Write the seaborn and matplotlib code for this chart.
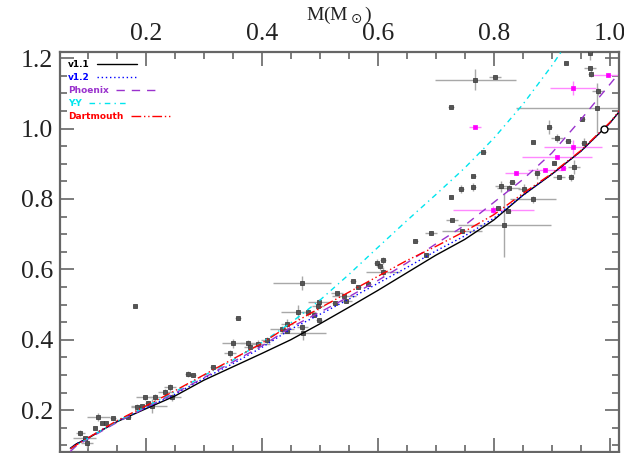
import numpy as np
import pandas as pd
import matplotlib
matplotlib.use('Agg')
import matplotlib.pyplot as plt
from matplotlib.ticker import MultipleLocator
import seaborn as sns

# ----------------------------------------------------------------------------------
# model tracks: radius vs mass
# ----------------------------------------------------------------------------------
mass_grid = [0.07, 0.08, 0.10, 0.15, 0.20, 0.25, 0.30, 0.35, 0.40, 0.45, 0.50,
             0.55, 0.60, 0.65, 0.70, 0.75, 0.80, 0.85, 0.90, 0.95, 1.00, 1.02]
r_v11 = [0.092, 0.104, 0.120, 0.167, 0.204, 0.240, 0.285, 0.323, 0.361, 0.400, 0.445,
         0.492, 0.540, 0.590, 0.640, 0.685, 0.740, 0.810, 0.870, 0.935, 1.015, 1.055]
r_v12 = [0.092, 0.104, 0.121, 0.168, 0.206, 0.245, 0.290, 0.332, 0.378, 0.430, 0.472,
         0.515, 0.560, 0.605, 0.652, 0.695, 0.745, 0.810, 0.870, 0.935, 1.015, 1.055]
r_phoenix = [0.083, 0.098, 0.118, 0.165, 0.207, 0.248, 0.292, 0.337, 0.382, 0.435, 0.478,
             0.522, 0.568, 0.618, 0.672, 0.725, 0.790, 0.855, 0.930, 1.025, 1.125, 1.165]
r_yy = [0.090, 0.100, 0.120, 0.168, 0.210, 0.252, 0.298, 0.342, 0.392, 0.448, 0.512,
        0.585, 0.662, 0.738, 0.812, 0.888, 0.972, 1.068, 1.178, 1.300, 1.430, 1.480]
r_dartmouth = [0.090, 0.101, 0.121, 0.170, 0.212, 0.255, 0.300, 0.345, 0.390, 0.443, 0.490,
               0.535, 0.580, 0.625, 0.665, 0.708, 0.755, 0.815, 0.872, 0.937, 1.017, 1.057]

# ----------------------------------------------------------------------------------
# observed stars (grey) : mass, radius, errors
# ----------------------------------------------------------------------------------
obs_m = [0.087, 0.095, 0.099, 0.113, 0.118, 0.125, 0.132, 0.144, 0.170, 0.182,
         0.185, 0.194, 0.199, 0.204, 0.211, 0.216, 0.233, 0.242, 0.245, 0.273,
         0.282, 0.316, 0.345, 0.351, 0.359, 0.377, 0.380, 0.394, 0.409, 0.435,
         0.444, 0.444, 0.463, 0.470, 0.470, 0.471, 0.480, 0.490, 0.499, 0.497,
         0.499, 0.530, 0.526, 0.542, 0.545, 0.558, 0.566, 0.584, 0.599, 0.604,
         0.609, 0.609, 0.665, 0.684, 0.692, 0.727, 0.744, 0.765, 0.765, 0.728,
         0.727, 0.768, 0.802, 0.782, 0.813, 0.826, 0.832, 0.852, 0.868, 0.808,
         0.825, 0.818, 0.868, 0.875, 0.904, 0.913, 0.933, 0.938, 0.896, 0.909,
         0.928, 0.955, 0.953, 0.924, 0.966, 0.967, 0.966, 0.980, 0.978, 0.745]
obs_r = [0.135, 0.120, 0.106, 0.149, 0.180, 0.163, 0.163, 0.177, 0.180, 0.495,
         0.209, 0.211, 0.237, 0.220, 0.211, 0.237, 0.251, 0.265, 0.237, 0.302,
         0.299, 0.322, 0.362, 0.390, 0.461, 0.390, 0.379, 0.388, 0.399, 0.430,
         0.444, 0.424, 0.478, 0.561, 0.436, 0.419, 0.478, 0.470, 0.456, 0.495,
         0.507, 0.532, 0.504, 0.524, 0.510, 0.566, 0.549, 0.558, 0.618, 0.609,
         0.626, 0.592, 0.680, 0.640, 0.703, 0.805, 0.828, 0.865, 0.834, 0.740,
         1.061, 1.138, 1.146, 0.933, 0.836, 0.831, 0.848, 0.828, 0.799, 0.774,
         0.765, 0.726, 0.961, 0.873, 0.902, 0.862, 0.862, 0.890, 1.004, 0.973,
         0.964, 0.959, 1.027, 1.186, 1.172, 1.155, 1.214, 1.106, 1.058, 0.708]
obs_me = [0.008, 0.020, 0.010, 0.000, 0.020, 0.000, 0.000, 0.005, 0.005, 0.003,
          0.010, 0.020, 0.015, 0.005, 0.025, 0.010, 0.012, 0.010, 0.015, 0.005,
          0.005, 0.005, 0.010, 0.020, 0.005, 0.015, 0.010, 0.020, 0.010, 0.020,
          0.010, 0.005, 0.030, 0.050, 0.010, 0.040, 0.010, 0.005, 0.005, 0.010,
          0.020, 0.010, 0.005, 0.020, 0.010, 0.005, 0.005, 0.005, 0.005, 0.005,
          0.005, 0.030, 0.005, 0.005, 0.010, 0.003, 0.005, 0.005, 0.005, 0.010,
          0.005, 0.070, 0.010, 0.005, 0.010, 0.020, 0.005, 0.010, 0.040, 0.005,
          0.005, 0.080, 0.003, 0.005, 0.003, 0.010, 0.005, 0.010, 0.005, 0.010,
          0.005, 0.005, 0.005, 0.003, 0.010, 0.005, 0.002, 0.010, 0.140, 0.035]
obs_re = [0.008, 0.005, 0.012, 0.000, 0.012, 0.000, 0.000, 0.005, 0.005, 0.003,
          0.010, 0.005, 0.007, 0.005, 0.020, 0.010, 0.010, 0.010, 0.010, 0.008,
          0.005, 0.005, 0.010, 0.012, 0.004, 0.010, 0.005, 0.010, 0.010, 0.010,
          0.015, 0.005, 0.020, 0.020, 0.010, 0.020, 0.010, 0.005, 0.005, 0.010,
          0.010, 0.005, 0.005, 0.005, 0.005, 0.005, 0.005, 0.005, 0.010, 0.010,
          0.010, 0.015, 0.005, 0.005, 0.005, 0.003, 0.012, 0.003, 0.012, 0.003,
          0.003, 0.030, 0.005, 0.003, 0.015, 0.008, 0.005, 0.015, 0.010, 0.005,
          0.005, 0.090, 0.003, 0.015, 0.003, 0.005, 0.010, 0.020, 0.020, 0.010,
          0.005, 0.015, 0.005, 0.003, 0.005, 0.010, 0.020, 0.010, 0.070, 0.005]

# second sample (magenta)
mag_m = [0.768, 0.997, 0.937, 0.937, 0.909, 0.919, 0.889, 0.839, 0.799]
mag_r = [1.004, 1.152, 1.115, 0.947, 0.919, 0.888, 0.882, 0.873, 0.768]
mag_me = [0.010, 0.030, 0.040, 0.050, 0.060, 0.005, 0.030, 0.020, 0.070]
mag_re = [0.003, 0.005, 0.020, 0.020, 0.005, 0.005, 0.005, 0.005, 0.012]

sun_m = [0.99]
sun_r = [1.0]

# ----------------------------------------------------------------------------------
# figure
# ----------------------------------------------------------------------------------
sns.set_style('ticks')
plt.rcParams['font.family'] = ['Liberation Serif', 'DejaVu Serif']

fig = plt.figure(figsize=(6.24, 4.53), dpi=100)
ax = fig.add_axes([0.096, 0.002, 0.896, 0.883])

df_obs = pd.DataFrame({'m': obs_m, 'r': obs_r})
df_mag = pd.DataFrame({'m': mag_m, 'r': mag_r})

ax.errorbar(obs_m, obs_r, xerr=obs_me, yerr=obs_re, fmt='none',
            ecolor='#a8a8a8', elinewidth=1.0, capsize=0, zorder=1)
ax.errorbar(mag_m, mag_r, xerr=mag_me, yerr=mag_re, fmt='none',
            ecolor='#ff88ff', elinewidth=1.0, capsize=0, zorder=1)
sns.scatterplot(data=df_obs, x='m', y='r', ax=ax, marker='s', s=9,
                color='#555555', edgecolor='#333333', linewidth=0.5, zorder=3)
sns.scatterplot(data=df_mag, x='m', y='r', ax=ax, marker='s', s=12,
                color='#ff00ff', edgecolor='#ff00ff', linewidth=0.5, zorder=3)

models = [
    ('v1.1', r_v11, 'black', None),
    ('v1.2', r_v12, '#0000ff', (1, 2)),
    ('Phoenix', r_phoenix, '#9a32cd', (6, 5)),
    ('Y-Y', r_yy, '#00e5ee', (4, 3, 1, 3)),
    ('Dartmouth', r_dartmouth, '#ff0000', (7, 2, 1, 2, 1, 2)),
]
for name, rr, col, dash in models:
    dfm = pd.DataFrame({'m': mass_grid, 'r': rr})
    sns.lineplot(data=dfm, x='m', y='r', ax=ax, color=col, linewidth=1.0,
                 label=name, zorder=4, sort=False)
    if dash is not None:
        ax.lines[-1].set_dashes(dash)

ax.plot(sun_m, sun_r, linestyle='none', marker='o', ms=5, mfc='white',
        mec='black', mew=1.0, zorder=5)

ax.set_xlim(0.052, 1.016)
ax.set_ylim(0.081, 1.217)

ax.xaxis.set_major_locator(MultipleLocator(0.2))
ax.xaxis.set_minor_locator(MultipleLocator(0.05))
ax.yaxis.set_major_locator(MultipleLocator(0.2))
ax.yaxis.set_minor_locator(MultipleLocator(0.05))
ax.xaxis.set_major_formatter(matplotlib.ticker.FormatStrFormatter('%.1f'))
ax.yaxis.set_major_formatter(matplotlib.ticker.FormatStrFormatter('%.1f'))

ax.xaxis.set_label_position('top')
ax.tick_params(which='both', direction='in', top=True, bottom=True, left=True, right=True,
               labeltop=True, labelbottom=False, color='#666666', width=1.2)
ax.tick_params(which='major', length=10, labelsize=18.5, labelcolor='#222222')
ax.tick_params(which='minor', length=5)
ax.tick_params(axis='x', which='major', pad=5)
ax.tick_params(axis='y', which='major', pad=5)

for sp in ax.spines.values():
    sp.set_color('#666666')
    sp.set_linewidth(1.6)

ax.set_xlabel(r'M(M$_\odot$)', fontsize=14, labelpad=2, color='#222222')
ax.set_ylabel(r'R(R$_\odot$)', fontsize=14, color='#222222')
ax.yaxis.set_label_coords(-0.115, 0.5)

leg = ax.legend(loc='upper left', bbox_to_anchor=(0.0, 1.0), frameon=False,
                markerfirst=False, labelcolor='linecolor', handlelength=4.4,
                handletextpad=0.8, labelspacing=0.45, borderpad=0.6,
                borderaxespad=0.3, prop={'family': 'DejaVu Sans', 'size': 6.5,
                                         'weight': 'bold'})
# text first, sample right after it (left aligned rows)
leg._legend_handle_box.get_children()[0].align = 'left'

plt.savefig('out.png', dpi=100)
